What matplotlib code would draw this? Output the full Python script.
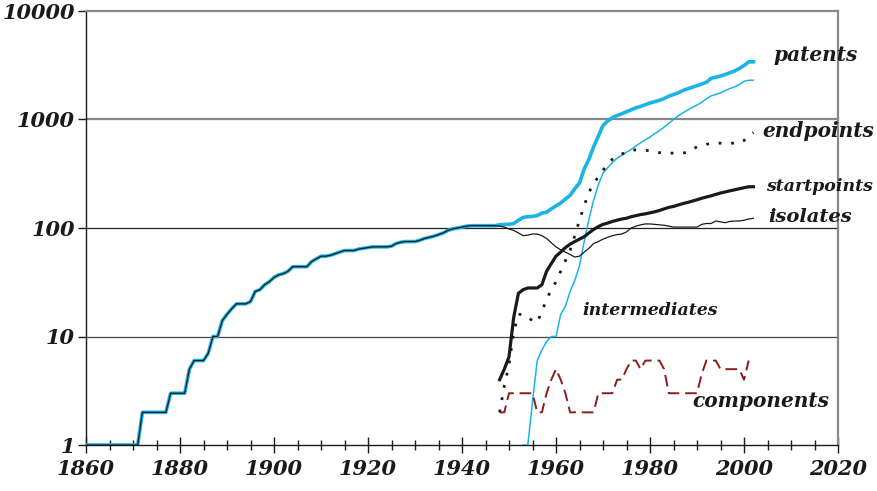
import matplotlib
matplotlib.use('agg')
import matplotlib.pyplot as plt
import numpy as np
from matplotlib.ticker import FixedLocator, MultipleLocator, NullLocator

# yearly counts
years = np.arange(1860, 2003)
patents = [
    1, 1, 1, 1, 1, 1, 1, 1, 1, 1,
    1, 1, 2, 2, 2, 2, 2, 2, 3, 3,
    3, 3, 5, 6, 6, 6, 7, 10, 10, 14,
    16, 18, 20, 20, 20, 21, 26, 27, 30, 32,
    35, 37, 38, 40, 44, 44, 44, 44, 49, 52,
    55, 55, 56, 58, 60, 62, 62, 62, 64, 65,
    66, 67, 67, 67, 67, 68, 72, 74, 75, 75,
    75, 77, 80, 82, 84, 87, 90, 95, 98, 100,
    102, 104, 105, 105, 105, 105, 105, 105, 107, 108,
    108, 110, 118, 125, 127, 128, 130, 137, 140, 150,
    160, 170, 185, 200, 230, 260, 350, 430, 560, 700,
    880, 970, 1040, 1090, 1130, 1180, 1230, 1280, 1320, 1370,
    1420, 1460, 1500, 1560, 1640, 1700, 1760, 1850, 1920, 1980,
    2050, 2120, 2200, 2400, 2450, 2520, 2600, 2700, 2800, 2950,
    3150, 3400, 3400,
]

late_years = np.arange(1948, 2003)
isolates_late = [
    104, 102, 98, 95, 90, 85, 86, 88, 88, 85,
    80, 73, 67, 63, 60, 57, 54, 55, 60, 65,
    72, 75, 79, 82, 85, 87, 88, 92, 100, 104,
    107, 109, 109, 108, 107, 106, 104, 102, 102, 102,
    102, 102, 102, 108, 110, 110, 116, 114, 112, 115,
    116, 116, 118, 121, 123,
]
startpoints = [
    4, 5, 6.5, 15, 25, 27, 28, 28, 28, 30,
    40, 47, 55, 60, 66, 71, 75, 79, 83, 90,
    97, 103, 108, 111, 115, 118, 121, 123, 127, 130,
    133, 135, 138, 141, 145, 150, 155, 158, 163, 168,
    172, 177, 182, 188, 193, 198, 204, 210, 215, 220,
    225, 230, 235, 240, 240,
]
endpoints = [
    2, 3.5, 5.5, 11, 16, 16, 15, 14, 13.5, 17,
    22, 27, 32, 40, 50, 62, 85, 118, 160, 215,
    250, 300, 340, 390, 430, 455, 480, 500, 520, 525,
    525, 520, 515, 505, 495, 490, 490, 490, 490, 490,
    500, 530, 560, 575, 590, 605, 605, 605, 605, 605,
    605, 605, 640, 700, 760,
]

comp_years = np.arange(1948, 2002)
components = [
    2, 2, 3, 3, 3, 3, 3, 3, 2, 2,
    3, 4, 5, 4, 3, 2, 2, 2, 2, 2,
    2, 3, 3, 3, 3, 4, 4, 5, 6, 6,
    5, 6, 6, 6, 6, 5, 3, 3, 3, 3,
    3, 3, 3, 4.5, 6, 6, 6, 5, 5, 5,
    5, 5, 4, 6,
]

inter_years = np.arange(1953, 2003)
intermediates = [
    1, 1, 2.5, 6, 7.5, 9, 10, 10, 16, 19,
    26, 33, 45, 75, 120, 180, 250, 320, 360, 400,
    440, 470, 500, 530, 570, 610, 650, 690, 740, 790,
    850, 920, 1000, 1080, 1150, 1220, 1290, 1360, 1440, 1550,
    1650, 1700, 1760, 1850, 1930, 2000, 2100, 2250, 2300, 2300,
]

# before 1948 every patent was an isolate
isolates = list(patents[:1948 - 1860]) + isolates_late

CYAN = '#1ab4e8'
DARK = '#1a1a1a'
RED = '#8b1c1c'
FONT = dict(family='DejaVu Serif', weight='bold', style='italic')

fig = plt.figure(figsize=(8.77, 4.91), dpi=100)
ax = fig.add_axes([86 / 877, 1 - 445 / 491, 752 / 877, 434 / 491])
ax.set_yscale('log')
ax.set_xlim(1860, 2020)
ax.set_ylim(1, 10000)

ax.axhline(1000, color='#888888', lw=1.6, zorder=1)
ax.axhline(100, color='#222222', lw=0.9, zorder=1)
ax.axhline(10, color='#444444', lw=0.9, zorder=1)

ax.plot(years, patents, color=CYAN, lw=2.6, zorder=3)
ax.plot(inter_years, intermediates, color=CYAN, lw=1.1, zorder=3)
ax.plot(years, isolates, color=DARK, lw=0.9, zorder=4)
ax.plot(late_years, startpoints, color=DARK, lw=2.3, zorder=4)
ax.plot(late_years, endpoints, color=DARK, lw=2.0,
        linestyle=(0, (1, 3.5)), zorder=4)
ax.plot(comp_years, components, color=RED, lw=1.4,
        linestyle=(0, (6, 3)), zorder=4)

labels = [
    ('patents', 2006.2, 3900, 14.5),
    ('endpoints', 2004.0, 790, 14.5),
    ('startpoints', 2004.7, 240, 12.5),
    ('isolates', 2005.1, 126, 14),
    ('intermediates', 1965.7, 17.5, 12.5),
    ('components', 1989.1, 2.55, 14.5),
]
for txt, lx, ly, size in labels:
    ax.text(lx, ly, txt, ha='left', va='center', fontsize=size,
            color=DARK, **FONT)

for side in ('top', 'right'):
    ax.spines[side].set_color('#888888')
    ax.spines[side].set_linewidth(1.6)
for side in ('left', 'bottom'):
    ax.spines[side].set_color(DARK)
    ax.spines[side].set_linewidth(1.0)

ax.xaxis.set_major_locator(MultipleLocator(20))
ax.xaxis.set_minor_locator(MultipleLocator(5))
ax.yaxis.set_major_locator(FixedLocator([1, 10, 100, 1000, 10000]))
ax.yaxis.set_minor_locator(NullLocator())
ax.set_yticklabels(['1', '10', '100', '1000', '10000'])
ax.tick_params(axis='x', which='major', direction='inout', length=12,
               width=1, pad=4, color=DARK)
ax.tick_params(axis='x', which='minor', direction='inout', length=7,
               width=1, color=DARK)
ax.tick_params(axis='y', which='major', direction='out', length=6,
               width=1, pad=2, color=DARK)
for lab in ax.get_xticklabels() + ax.get_yticklabels():
    lab.set_fontsize(15)
    lab.set_fontfamily('DejaVu Serif')
    lab.set_fontweight('bold')
    lab.set_fontstyle('italic')
    lab.set_color(DARK)

fig.savefig('out.png', dpi=100)
